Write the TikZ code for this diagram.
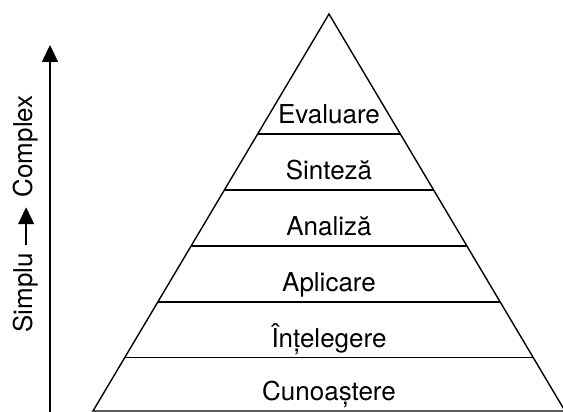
\documentclass[tikz,border=0pt]{standalone}
\usepackage{fontspec}
\setmainfont{TeX Gyre Heros}
\usetikzlibrary{calc,arrows.meta}

\begin{document}
\begin{tikzpicture}
[x=0.5pt,y=0.5pt,
 lineStyle/.style={line width=0.7pt},
 tipStyle/.style={-{Triangle[width=8pt,length=8.5pt]}},
 levelLabel/.style={anchor=base,inner sep=0pt,font=\fontsize{13}{15}\selectfont},
 axisLabel/.style={rotate=90,inner sep=0pt,font=\fontsize{13}{15}\selectfont}]
\useasboundingbox (0,0) rectangle (563,412);
%% pyramid outline
\coordinate (top) at (329,398);
\coordinate (left) at (93,1);
\coordinate (right) at (565,1);
\draw[lineStyle] (left) -- (top) -- (right) -- cycle;
%% level boundaries
\foreach \t in {0.302,0.443,0.584,0.725,0.866}
{
  \draw[lineStyle] ($(top)!\t!(left)$) -- ($(top)!\t!(right)$);
}
%% level names
\foreach \name/\t/\txt in {
  cunoastere/1/Cunoaștere, intelegere/0.866/Înțelegere,
  aplicare/0.725/Aplicare, analiza/0.584/Analiză,
  sinteza/0.443/Sinteză, evaluare/0.302/Evaluare}
{
  \node (\name) at (329,{408-397*\t}) [levelLabel] {\txt};
}
%% axis with its caption
\coordinate (axisFoot) at (50,0);
\coordinate (axisHead) at (50,367);
\draw[lineStyle,tipStyle] (axisFoot) -- (axisHead);
\node (simplu) at (33,79) [axisLabel,anchor=base west] {Simplu};
\node (complex) at (33,317) [axisLabel,anchor=base east] {Complex};
\draw[lineStyle,tipStyle,shorten <=3.75pt,shorten >=4.7pt] (simplu.east) -- (complex.west);
\end{tikzpicture}
\end{document}
